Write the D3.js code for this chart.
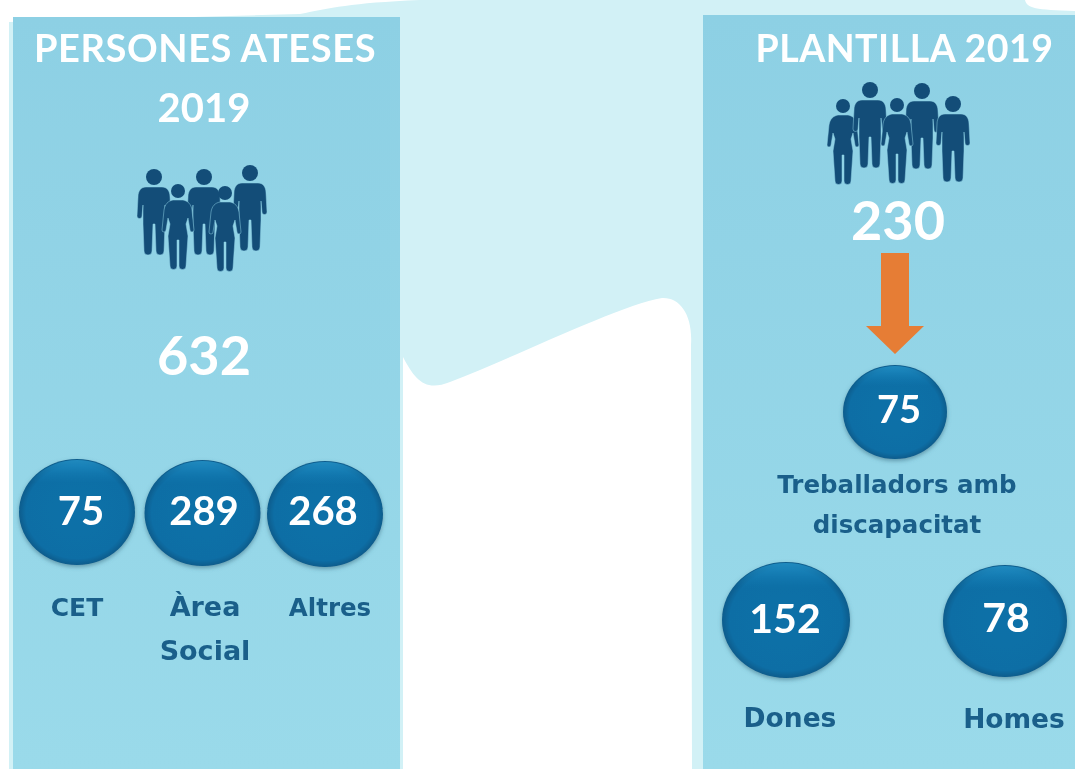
<!DOCTYPE html>
<html>
<head>
<meta charset="utf-8">
<script src="https://cdn.jsdelivr.net/npm/d3@7"></script>
<style>
html, body { margin: 0; padding: 0; background: #fff; }
svg { display: block; filter: blur(0.6px); }
text { text-anchor: middle; }
</style>
</head>
<body>
<div id="main"></div>
<script>
var WIDTH = 1075, HEIGHT = 769;

// data
var leftTitle = ["PERSONES ATESES", "2019"];
var rightTitle = ["PLANTILLA 2019"];
var leftTotal = 632;
var rightTotal = 230;
var leftCategories = ["CET", "Àrea|Social", "Altres"];
var leftValues = [75, 289, 268];
var rightCategories = ["Treballadors amb|discapacitat", "Dones", "Homes"];
var rightValues = [75, 152, 78];

// layout, kept apart from the values
var leftBall = {
	x: d3.scaleOrdinal(leftCategories, [77, 202.5, 325]),
	y: d3.scaleOrdinal(leftCategories, [512, 513, 514]),
	rx: d3.scaleOrdinal(leftCategories, [58, 58, 58]),
	ry: d3.scaleOrdinal(leftCategories, [53, 53, 53]),
	textX: d3.scaleOrdinal(leftCategories, [81, 204, 323]),
	textY: d3.scaleOrdinal(leftCategories, [525, 525, 525]),
	size: d3.scaleOrdinal(leftCategories, [40, 40, 40])
};
var rightBall = {
	x: d3.scaleOrdinal(rightCategories, [895, 786, 1005]),
	y: d3.scaleOrdinal(rightCategories, [412, 620, 621]),
	rx: d3.scaleOrdinal(rightCategories, [52, 64, 62]),
	ry: d3.scaleOrdinal(rightCategories, [47, 58, 56]),
	textX: d3.scaleOrdinal(rightCategories, [899, 785, 1006]),
	textY: d3.scaleOrdinal(rightCategories, [423, 633, 632]),
	size: d3.scaleOrdinal(rightCategories, [38, 41, 41])
};
var leftLabel = {
	x: d3.scaleOrdinal(leftCategories, [77, 205, 330]),
	y: d3.scaleOrdinal(leftCategories, [616, 616, 616]),
	size: d3.scaleOrdinal(leftCategories, [25, 27, 24.5])
};
var rightLabel = {
	x: d3.scaleOrdinal(rightCategories, [897, 790, 1014]),
	y: d3.scaleOrdinal(rightCategories, [493, 727, 728]),
	size: d3.scaleOrdinal(rightCategories, [24.5, 26.5, 26.5])
};

var leftPeople = [
	{ x: 154, y: 169, type: "man" },
	{ x: 250, y: 165, type: "man" },
	{ x: 204, y: 169, type: "man" },
	{ x: 178, y: 184, type: "woman" },
	{ x: 225, y: 186, type: "woman" }
];
var rightPeople = [
	{ x: 843, y: 99, type: "woman" },
	{ x: 870, y: 82, type: "man" },
	{ x: 922, y: 83, type: "man" },
	{ x: 953, y: 96, type: "man" },
	{ x: 897, y: 98, type: "woman" }
];

var FONT = "Lato, 'Open Sans', sans-serif";

var manBody = "M-8,18 H8 C13,18 16,22 16,28 L17,47 a2.5,2.5 0 0 1 -5,0 L11,36 L11,55 L10,82 a3.5,3.5 0 0 1 -8,0 L1,55 H-1 L-2,82 a3.5,3.5 0 0 1 -8,0 L-11,55 L-11,36 L-12,47 a2.5,2.5 0 0 1 -5,0 L-16,28 C-16,22 -13,18 -8,18 Z";
var womanBody = "M-5,16 H5 C10,17 13,20 14,26 L16,46 a2,2 0 0 1 -4,0 L10,34 L8,40 L10,52 L8,82 a3.5,3.5 0 0 1 -7,0 L1,56 H-1 L-1,82 a3.5,3.5 0 0 1 -7,0 L-10,52 L-8,40 L-10,34 L-12,46 a2,2 0 0 1 -4,0 L-14,26 C-13,20 -10,17 -5,16 Z";

var svg, defs;

function createCanvas() {
	svg = d3.select("#main").append("svg")
		.attr("id", "canvas")
		.attr("width", WIDTH)
		.attr("height", HEIGHT);

	defs = svg.append("defs");

	var panel = defs.append("linearGradient").attr("id", "panel")
		.attr("x1", 0).attr("y1", 0).attr("x2", 0).attr("y2", 1);
	panel.append("stop").attr("offset", "0%").attr("stop-color", "#8dd0e4");
	panel.append("stop").attr("offset", "100%").attr("stop-color", "#9adaea");

	var ball = defs.append("radialGradient").attr("id", "ball")
		.attr("cx", "50%").attr("cy", "50%").attr("r", "50%");
	ball.append("stop").attr("offset", "0%").attr("stop-color", "#0e70a8");
	ball.append("stop").attr("offset", "88%").attr("stop-color", "#0e6ea5");
	ball.append("stop").attr("offset", "100%").attr("stop-color", "#0a5c8c");

	var shine = defs.append("linearGradient").attr("id", "shine")
		.attr("x1", 0).attr("y1", 0).attr("x2", 0).attr("y2", 1);
	shine.append("stop").attr("offset", "0%").attr("stop-color", "#2595cb").attr("stop-opacity", 0.8);
	shine.append("stop").attr("offset", "22%").attr("stop-color", "#1480b8").attr("stop-opacity", 0);

	var shadow = defs.append("filter").attr("id", "shadow")
		.attr("x", "-20%").attr("y", "-20%").attr("width", "140%").attr("height", "140%");
	shadow.append("feDropShadow").attr("dx", 0).attr("dy", 2).attr("stdDeviation", 2)
		.attr("flood-color", "#3d6f85").attr("flood-opacity", 0.6);
}

function drawBackground() {
	// pale band behind the panels
	var band = d3.path();
	band.moveTo(9, 22);
	band.lineTo(300, 14);
	band.bezierCurveTo(330, 8, 350, 3, 420, 0);
	band.lineTo(1025, 0);
	band.bezierCurveTo(1027, 8, 1035, 10, 1075, 11);
	band.lineTo(1075, 769);
	band.lineTo(692, 769);
	band.lineTo(691, 345);
	band.bezierCurveTo(693, 315, 680, 297, 662, 298);
	band.bezierCurveTo(620, 305, 520, 355, 450, 382);
	band.bezierCurveTo(425, 392, 415, 380, 403, 357);
	band.lineTo(403, 769);
	band.lineTo(9, 769);
	band.closePath();
	svg.append("path").attr("d", band.toString()).attr("fill", "#d2f1f6");

	svg.selectAll("rect.panel")
		.data([[13, 17, 387], [703, 15, 372]])
		.enter().append("rect")
			.attr("class", "panel")
			.attr("x", function(d) { return d[0]; })
			.attr("y", function(d) { return d[1]; })
			.attr("width", function(d) { return d[2]; })
			.attr("height", function(d) { return HEIGHT - d[1]; })
			.attr("fill", "url(#panel)");
}

function drawPeople(people) {
	var g = svg.append("g").attr("fill", "#134d78");
	var p = g.selectAll("g.person")
		.data(people)
		.enter().append("g")
			.attr("class", "person")
			.attr("transform", function(d) { return "translate(" + d.x + "," + d.y + ")"; });
	p.append("circle")
		.attr("cx", 0)
		.attr("cy", function(d) { return d.type == "man" ? 8 : 7; })
		.attr("r", function(d) { return d.type == "man" ? 8 : 7; });
	p.append("path")
		.attr("d", function(d) { return d.type == "man" ? manBody : womanBody; })
		.attr("stroke", "#8fd1e5")
		.attr("stroke-width", 0.5);
}

function drawTitle(text, x, y, size, spacing) {
	svg.append("text")
		.attr("x", x).attr("y", y)
		.attr("font-family", FONT)
		.attr("font-weight", 700)
		.attr("font-size", size)
		.attr("letter-spacing", spacing || 0)
		.attr("fill", "#fff")
		.text(text);
}

function drawBalls(values, cats, b) {
	var g = svg.selectAll(null)
		.data(d3.zip(cats, values))
		.enter().append("g");
	g.append("ellipse")
		.attr("cx", function(d) { return b.x(d[0]); })
		.attr("cy", function(d) { return b.y(d[0]); })
		.attr("rx", function(d) { return b.rx(d[0]); })
		.attr("ry", function(d) { return b.ry(d[0]); })
		.attr("fill", "url(#ball)")
		.attr("filter", "url(#shadow)");
	g.append("ellipse")
		.attr("cx", function(d) { return b.x(d[0]); })
		.attr("cy", function(d) { return b.y(d[0]); })
		.attr("rx", function(d) { return b.rx(d[0]) - 1; })
		.attr("ry", function(d) { return b.ry(d[0]) - 1; })
		.attr("fill", "url(#shine)");
	g.append("text")
		.attr("x", function(d) { return b.textX(d[0]); })
		.attr("y", function(d) { return b.textY(d[0]); })
		.attr("font-family", FONT)
		.attr("font-weight", 700)
		.attr("font-size", function(d) { return b.size(d[0]); })
		.attr("fill", "#fff")
		.text(function(d) { return d[1]; });
}

function drawLabels(cats, l, lineH) {
	var t = svg.selectAll(null)
		.data(cats)
		.enter().append("text")
			.attr("font-family", "'DejaVu Sans', sans-serif")
			.attr("font-weight", 700)
			.attr("font-size", function(d) { return l.size(d); })
			.attr("fill", "#1a5f8a");
	t.selectAll("tspan")
		.data(function(d) { return d.split("|").map(function(s) { return { s: s, cat: d }; }); })
		.enter().append("tspan")
			.attr("x", function(d) { return l.x(d.cat); })
			.attr("y", function(d, i) { return l.y(d.cat) + i * lineH; })
			.text(function(d) { return d.s; });
}

function drawArrow() {
	// body and head of the orange arrow
	var a = d3.path();
	a.moveTo(881, 253);
	a.lineTo(909, 253);
	a.lineTo(909, 326);
	a.lineTo(924, 326);
	a.lineTo(895, 354);
	a.lineTo(866, 326);
	a.lineTo(881, 326);
	a.closePath();
	svg.append("path").attr("d", a.toString()).attr("fill", "#e67d35");
}

createCanvas();
drawBackground();

drawTitle(leftTitle[0], 205, 62, 38, 0.6);
drawTitle(leftTitle[1], 204, 122, 40, 0);
drawTitle(rightTitle[0], 904.5, 62, 37.5, 0.5);

drawPeople(leftPeople);
drawPeople(rightPeople);

drawTitle(leftTotal, 204, 375, 54);
drawTitle(rightTotal, 898, 240, 54);
drawArrow();

drawBalls(leftValues, leftCategories, leftBall);
drawBalls(rightValues, rightCategories, rightBall);

drawLabels(leftCategories, leftLabel, 44);
drawLabels(rightCategories, rightLabel, 40);
</script>
</body>
</html>
